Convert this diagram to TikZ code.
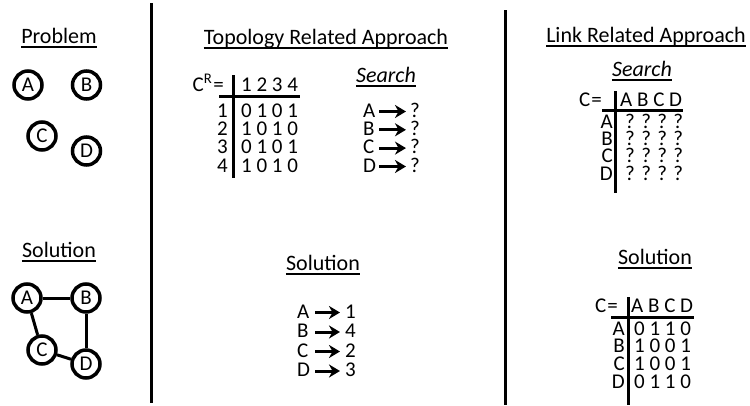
\documentclass[tikz,border=0pt]{standalone}
\usepackage{fontspec}
\setmainfont{Carlito}
\usetikzlibrary{arrows.meta}
\begin{document}
\begin{tikzpicture}[x=1pt,y=-1pt,
  txt/.style={inner sep=0pt, font=\fontsize{21}{21}\selectfont, anchor=base, text height=13pt, text depth=0pt},
  ttl/.style={inner sep=0pt, font=\fontsize{22}{22}\selectfont, anchor=base},
  ul/.style={line width=1.6pt},
  sepline/.style={line width=3pt},
  vtx/.style={circle, draw, line width=3.5pt, minimum size=28pt, inner sep=0pt, font=\fontsize{21}{21}\selectfont},
  edge/.style={line width=3pt},
  bar/.style={line width=3pt},
  arr/.style={line width=3pt, -{Stealth[length=11pt,width=13pt,inset=3.5pt]}}
]
\useasboundingbox (0,0) rectangle (750,405);

% separators
\coordinate (s1t) at (151.5,3); \coordinate (s1b) at (151.5,403);
\coordinate (s2t) at (505,10); \coordinate (s2b) at (505,405);
\draw[sepline] (s1t) -- (s1b);
\draw[sepline] (s2t) -- (s2b);

% titles
\node[ttl] (tprob) at (59,43) {Problem};
\node[ttl] (tsol1) at (59,257) {Solution};
\node[ttl] (ttop) at (326,44) {Topology Related Approach};
\node[ttl] (tsearch1) at (386,82) {\itshape Search};
\node[ttl] (tsol2) at (323,270) {Solution};
\node[ttl] (tlink) at (646,42) {Link Related Approach};
\node[ttl] (tsearch2) at (642,76) {\itshape Search};
\node[ttl] (tsol3) at (655,264) {Solution};
\foreach \t in {tprob,tsol1,ttop,tsearch1,tsol2,tlink,tsearch2,tsol3}
  \draw[ul] ([yshift=-4pt]\t.base west) -- ([yshift=-4pt]\t.base east);

% problem graph
\node[vtx] (pA) at (28,85) {A};
\node[vtx] (pB) at (86.5,85) {B};
\node[vtx] (pC) at (42,136) {C};
\node[vtx] (pD) at (86.5,151) {D};

% solution graph
\node[vtx] (sA) at (27,298) {A};
\node[vtx] (sB) at (86,298) {B};
\node[vtx] (sC) at (42,350) {C};
\node[vtx] (sD) at (86,364) {D};
\draw[edge] (sA) -- (sB);
\draw[edge] (sA) -- (sC);
\draw[edge] (sC) -- (sD);
\draw[edge] (sB) -- (sD);

% C^R matrix
\node[txt, anchor=base east] (crl) at (224,91) {C\textsuperscript{R}\hspace{1pt}=};
\node[txt, anchor=base west] (crh) at (241,91) {1 2 3 4};
\coordinate (crvt) at (233,75); \coordinate (crvb) at (233,178);
\coordinate (crhl) at (219,96); \coordinate (crhr) at (300,96);
\draw[bar] (crvt) -- (crvb);
\draw[bar] (crhl) -- (crhr);
\foreach \r/\y/\v in {1/117/0 1 0 1, 2/135.3/1 0 1 0, 3/153.6/0 1 0 1, 4/172/1 0 1 0}{
  \node[txt, anchor=base east] (crr\r) at (228,\y) {\r};
  \node[txt, anchor=base west] (crv\r) at (241,\y) {\v};
}

% search (topology)
\foreach \l/\y in {A/117, B/135.3, C/153.6, D/172}{
  \node[txt, anchor=base west] (q\l) at (363,\y) {\l};
  \node[txt, anchor=base west] (qq\l) at (410,\y) {?};
  \coordinate (qs\l) at (379,\y-5.5);
  \coordinate (qe\l) at (406,\y-5.5);
  \draw[arr] (qs\l) -- (qe\l);
}

% solution (topology)
\foreach \l/\n/\y in {A/1/318, B/4/337.5, C/2/357, D/3/376.5}{
  \node[txt, anchor=base west] (m\l) at (297,\y) {\l};
  \node[txt, anchor=base west] (mn\l) at (345,\y) {\n};
  \coordinate (ms\l) at (315,\y-5.5);
  \coordinate (me\l) at (340,\y-5.5);
  \draw[arr] (ms\l) -- (me\l);
}

% link search matrix
\node[txt, anchor=base east] (c1l) at (602,106) {C\hspace{1pt}=};
\node[txt, anchor=base west] (c1h) at (620,106) {A B C D};
\coordinate (c1vt) at (615,91); \coordinate (c1vb) at (615,193);
\coordinate (c1hl) at (602,110); \coordinate (c1hr) at (683,110);
\draw[bar] (c1vt) -- (c1vb);
\draw[bar] (c1hl) -- (c1hr);
\foreach \r/\y in {A/128, B/145.3, C/162.6, D/180}{
  \node[txt, anchor=base east] (c1r\r) at (613,\y) {\r};
  \node[txt, anchor=base west] (c1v\r) at (625,\y) {? ? ? ?};
}

% link solution matrix
\node[txt, anchor=base east] (c2l) at (618,312) {C\hspace{1pt}=};
\node[txt, anchor=base west] (c2h) at (631,312) {A B C D};
\coordinate (c2vt) at (628,297); \coordinate (c2vb) at (628,405);
\coordinate (c2hl) at (611,317); \coordinate (c2hr) at (694,317);
\draw[bar] (c2vt) -- (c2vb);
\draw[bar] (c2hl) -- (c2hr);
\foreach \r/\y/\v in {A/335/0 1 1 0, B/352.7/1 0 0 1, C/370.3/1 0 0 1, D/388/0 1 1 0}{
  \node[txt, anchor=base east] (c2r\r) at (625,\y) {\r};
  \node[txt, anchor=base west] (c2v\r) at (634,\y) {\v};
}
\end{tikzpicture}
\end{document}
